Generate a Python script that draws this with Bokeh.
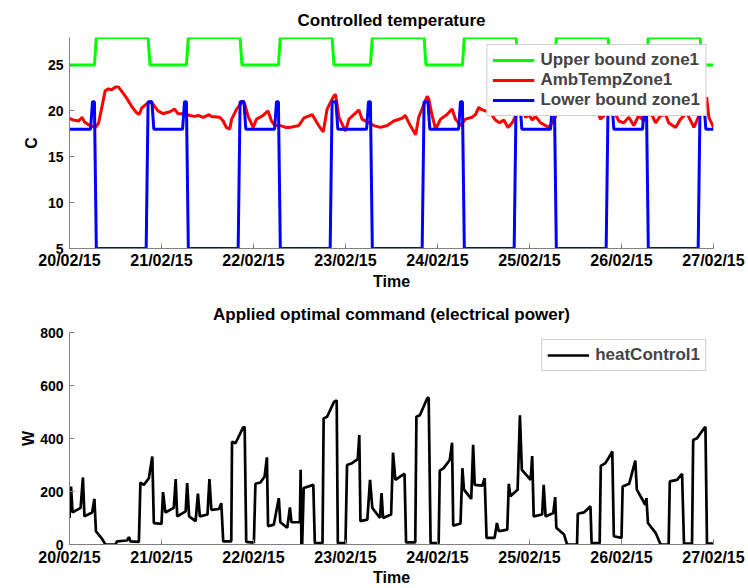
import pandas as pd
from bokeh.plotting import figure
from bokeh.models import FixedTicker, DatetimeTickFormatter, Range1d
from bokeh.layouts import column
from bokeh.embed import file_html
from bokeh.resources import INLINE

# ---------------- data (hours since 20/02/15 00:00) ----------------
start_date = "2015-02-20"
day_labels = ["20/02/15", "21/02/15", "22/02/15", "23/02/15",
              "24/02/15", "25/02/15", "26/02/15", "27/02/15"]

upper_hours = [0, 6.5, 7, 20.5, 21, 30.5, 31, 44.5, 45, 54.5, 55, 68.5, 69,
               78.5, 79, 92.5, 93, 102.5, 103, 116.5, 117, 126.5, 127,
               140.5, 141, 150.5, 151, 164.5, 165, 168]
upper_values = [25, 25, 28, 28, 25, 25, 28, 28, 25, 25, 28, 28, 25,
                25, 28, 28, 25, 25, 28, 28, 25, 25, 28,
                28, 25, 25, 28, 28, 25, 25]

lower_hours = [0, 5.5, 6, 6.5, 7, 20, 20.5, 21.5, 22,
               29.5, 30, 30.5, 31, 44, 44.5, 45.5, 46,
               53.5, 54, 54.5, 55, 68, 68.5, 69.5, 70,
               77.5, 78, 78.5, 79, 92, 92.5, 93.5, 94,
               101.5, 102, 102.5, 103, 116, 116.5, 117.5, 118,
               125.5, 126, 126.5, 127, 140, 140.5, 141.5, 142,
               149.5, 150, 150.5, 151, 164, 164.5, 165.5, 166, 168]
lower_values = [18, 18, 21, 21, 5, 5, 21, 21, 18,
                18, 21, 21, 5, 5, 21, 21, 18,
                18, 21, 21, 5, 5, 21, 21, 18,
                18, 21, 21, 5, 5, 21, 21, 18,
                18, 21, 21, 5, 5, 21, 21, 18,
                18, 21, 21, 5, 5, 21, 21, 18,
                18, 21, 21, 5, 5, 21, 21, 18, 18]

amb_hours = [0.0, 1.0, 2.4, 3.3, 3.9, 5.3, 6.8, 7.6, 8.4, 9.3, 10.1, 11.0,
             12.0, 12.8, 13.7, 14.9, 16.2, 17.5, 18.2, 18.8, 20.2, 21.2,
             22.2, 23.1, 24.4, 25.2, 26.2, 27.4, 28.3, 30.1, 31.4, 32.6,
             33.6, 34.9, 36.4, 37.0, 39.2, 40.1, 40.9, 41.8, 42.3, 43.6,
             45.3, 45.8, 46.6, 47.9, 48.8, 50.5, 51.8, 52.7, 53.6, 55.0,
             56.4, 57.6, 59.8, 61.1, 63.3, 65.0, 66.2, 67.2, 68.9, 69.4,
             70.3, 72.0, 72.9, 75.5, 76.3, 77.7, 79.4, 81.1, 82.9, 84.6,
             86.8, 87.6, 88.9, 90.3, 91.1, 93.3, 93.7, 94.6, 95.5, 96.8,
             98.5, 99.8, 100.7, 102.0, 103.3, 105.0, 105.9, 106.8, 107.2,
             108.5, 109.8, 111.1, 112.2, 113.3, 114.4, 115.5, 116.8, 117.6,
             118.5, 119.0, 119.8, 120.7, 121.6, 122.9, 125.0, 126.3, 127.2,
             128.5, 131.0, 134.0, 136.8, 137.7, 138.5, 139.5, 141.2, 142.0,
             143.3, 144.6, 145.9, 147.2, 148.5, 149.8, 151.1, 152.0, 152.9,
             154.2, 155.5, 156.3, 158.1, 159.4, 161.1, 161.6, 162.9, 164.2,
             165.5, 166.2, 166.8, 168.0]
amb_values = [19.2, 19.0, 18.9, 19.3, 18.8, 18.4, 18.2, 18.7, 20.3, 22.2, 22.4, 22.3,
              22.6, 22.6, 22.1, 21.4, 20.5, 19.8, 19.6, 20.3, 20.8, 21.0,
              20.5, 20.0, 19.7, 19.8, 19.9, 20.2, 19.7, 19.7, 19.5, 19.4,
              19.5, 19.3, 19.6, 19.4, 19.3, 18.9, 18.2, 18.0, 19.1, 20.2,
              21.1, 20.6, 19.4, 18.2, 19.1, 19.5, 20.0, 18.9, 18.4, 18.4,
              18.2, 18.2, 18.4, 19.2, 19.6, 18.4, 17.7, 20.2, 21.6, 21.8,
              19.3, 17.8, 19.1, 20.1, 19.1, 18.8, 18.4, 18.2, 18.4, 18.9,
              19.2, 19.5, 18.4, 17.4, 19.3, 21.6, 21.3, 19.5, 18.0, 19.1,
              19.6, 20.2, 19.1, 18.4, 19.1, 19.3, 19.6, 20.4, 20.2,
              20.0, 19.8, 19.0, 18.7, 19.0, 18.2, 18.7, 19.8, 21.0,
              19.8, 19.3, 19.6, 19.0, 19.4, 18.7, 18.2, 18.9, 19.8,
              20.6, 20.4, 20.6, 19.8, 20.0, 19.1, 19.5, 21.2, 20.0,
              18.9, 18.7, 19.3, 18.4, 19.5, 18.9, 19.8, 19.5, 18.7,
              19.5, 19.6, 18.7, 18.2, 19.1, 19.8, 19.3, 18.2, 19.5,
              20.5, 21.5, 19.3, 18.2]

heat_hours = [0.0, 0.4, 0.8, 2.9, 3.5, 3.9, 5.9, 6.5, 6.9, 8.5, 9.4, 12.0,
              12.4, 15.0, 15.5, 15.9, 18.1, 18.5, 19.4, 20.7, 21.6, 22.0,
              24.0, 24.4, 25.0, 27.2, 27.7, 28.1, 30.3, 30.7, 31.2, 32.9,
              33.5, 34.0, 36.0, 36.5, 37.0, 39.0, 39.6, 40.1, 42.2, 42.4,
              43.3, 45.3, 45.7, 46.1, 48.1, 48.5, 49.8, 50.9, 51.5, 51.8,
              53.3, 54.6, 55.0, 56.8, 57.5, 57.9, 60.1, 60.3, 60.5, 60.7,
              61.1, 63.6, 64.0, 66.0, 66.3, 67.2, 69.0, 69.7, 70.0, 72.0,
              72.4, 73.7, 75.2, 75.6, 75.9, 77.7, 78.4, 79.0, 81.0, 81.4,
              81.8, 83.9, 84.4, 85.0, 87.4, 87.8, 90.2, 90.5, 91.4, 93.3,
              93.7, 94.2, 96.3, 96.6, 97.6, 99.2, 99.8, 100.1, 102.0, 102.5,
              102.9, 104.8, 105.3, 105.7, 107.7, 108.3, 108.8, 110.9, 111.5,
              112.0, 114.2, 114.6, 115.0, 116.9, 117.5, 118.0, 120.3, 120.7,
              121.1, 123.3, 123.7, 124.2, 126.2, 126.7, 127.0, 129.0, 129.8,
              132.4, 132.6, 134.2, 135.9, 136.2, 138.3, 138.6, 139.8, 141.1,
              141.6, 142.0, 144.0, 144.3, 146.0, 147.6, 148.0, 150.2, 150.5,
              150.9, 152.9, 154.2, 156.3, 156.6, 158.5, 159.8, 160.3, 162.4,
              162.7, 163.7, 165.5, 165.9, 166.3, 168.0]
heat_values = [100, 219, 121, 138, 253, 106, 121, 172, 50, 21, 0, 0,
               12, 15, 28, 12, 10, 234, 225, 250, 332, 81,
               78, 198, 121, 138, 247, 106, 125, 232, 106, 88,
               192, 106, 113, 247, 131, 134, 156, 12, 12, 388,
               382, 442, 442, 10, 7, 229, 234, 257, 329, 69,
               75, 175, 84, 63, 140, 84, 84, 282, 0, 0,
               213, 225, 5, 5, 476, 482, 538, 544, 5, 5,
               300, 307, 322, 413, 88, 94, 244, 138, 100, 194,
               100, 113, 347, 244, 267, 8, 8, 482, 488, 551,
               555, 5, 5, 279, 288, 319, 384, 71, 79, 288,
               207, 172, 376, 225, 222, 250, 25, 25, 81,
               50, 56, 229, 182, 207, 488, 282, 244, 334,
               106, 113, 225, 106, 119, 179, 63, 38, 0,
               0, 116, 121, 144, 5, 5, 297, 307, 338,
               351, 31, 25, 219, 229, 317, 207, 150, 175,
               81, 44, 0, 0, 238, 244, 267, 3, 3,
               394, 401, 438, 444, 3, 3]

# ---------------- helpers ----------------
base_ms = pd.Timestamp(start_date).value / 1e6
HOUR = 3600000.0


def to_ms(hours):
    return [base_ms + h * HOUR for h in hours]


day_ticks = [base_ms + 24 * i * HOUR for i in range(len(day_labels))]
FONT = "Liberation Sans"
FS = "16px"


def style(p, yticks, ylabel, label_standoff, tick_standoff, xlabel_standoff,
          title_standoff):
    p.grid.visible = False
    p.outline_line_color = None
    p.background_fill_color = "white"
    p.border_fill_color = "white"
    for ax in (p.xaxis[0], p.yaxis[0]):
        ax.axis_line_color = "#808080"
        ax.major_tick_line_color = "#808080"
        ax.minor_tick_line_color = None
        ax.major_tick_in = 5
        ax.major_tick_out = 0
        ax.major_label_text_font = FONT
        ax.major_label_text_font_size = FS
        ax.major_label_text_font_style = "bold"
        ax.major_label_text_color = "black"
        ax.axis_label_text_font = FONT
        ax.axis_label_text_font_size = FS
        ax.axis_label_text_font_style = "bold"
        ax.axis_label_text_color = "black"
    p.xaxis.ticker = FixedTicker(ticks=day_ticks)
    fmt = "%d/%m/%y"
    p.xaxis.formatter = DatetimeTickFormatter(
        milliseconds=fmt, seconds=fmt, minsec=fmt, minutes=fmt, hourmin=fmt,
        hours=fmt, days=fmt, months=fmt, years=fmt)
    p.xaxis.axis_label = "Time"
    p.xaxis.major_label_standoff = tick_standoff
    p.xaxis.axis_label_standoff = xlabel_standoff
    p.yaxis.ticker = FixedTicker(ticks=yticks)
    p.yaxis.axis_label = ylabel
    p.yaxis.major_label_text_font_size = "14px"
    p.yaxis.major_label_standoff = 6
    p.yaxis.axis_label_standoff = label_standoff
    p.title.align = "center"
    p.title.text_font = FONT
    p.title.text_font_size = "17px"
    p.title.text_font_style = "bold"
    p.title.text_color = "black"
    p.title.standoff = title_standoff
    lg = p.legend[0]
    lg.location = "top_right"
    lg.margin = 7
    lg.padding = 5
    lg.spacing = 0
    lg.glyph_width = 42
    lg.glyph_height = 20
    lg.label_height = 20
    lg.label_standoff = 6
    lg.label_text_font = FONT
    lg.label_text_font_size = "17px"
    lg.label_text_font_style = "bold"
    lg.border_line_color = "#a0a0a0"
    lg.border_line_width = 1
    lg.background_fill_alpha = 1.0


p1 = figure(width=748, height=292, x_axis_type="datetime",
            x_range=Range1d(base_ms, base_ms + 168 * HOUR),
            y_range=Range1d(5, 28),
            title="Controlled temperature",
            output_backend="svg", toolbar_location=None,
            min_border_left=69, min_border_right=35,
            min_border_top=37, min_border_bottom=44)
p1.line(to_ms(upper_hours), upper_values, color="#00ff00", line_width=3,
        legend_label="Upper bound zone1")
p1.line(to_ms(amb_hours), amb_values, color="#ff0000", line_width=3,
        legend_label="AmbTempZone1")
p1.line(to_ms(lower_hours), lower_values, color="#0000ff", line_width=3,
        legend_label="Lower bound zone1")
style(p1, [5, 10, 15, 20, 25], "C", 5, 3, 1, 15)

p2 = figure(width=748, height=296, x_axis_type="datetime",
            x_range=Range1d(base_ms, base_ms + 168 * HOUR),
            y_range=Range1d(0, 800),
            title="Applied optimal command (electrical power)",
            output_backend="svg", toolbar_location=None,
            min_border_left=69, min_border_right=35,
            min_border_top=40, min_border_bottom=43)
p2.line(to_ms(heat_hours), heat_values, color="black", line_width=2.7,
        legend_label="heatControl1")
style(p2, [0, 200, 400, 600, 800], "W", 0, 4, 0, 17)

layout = column(p1, p2)
open("out.html", "w").write(file_html(layout, INLINE))
